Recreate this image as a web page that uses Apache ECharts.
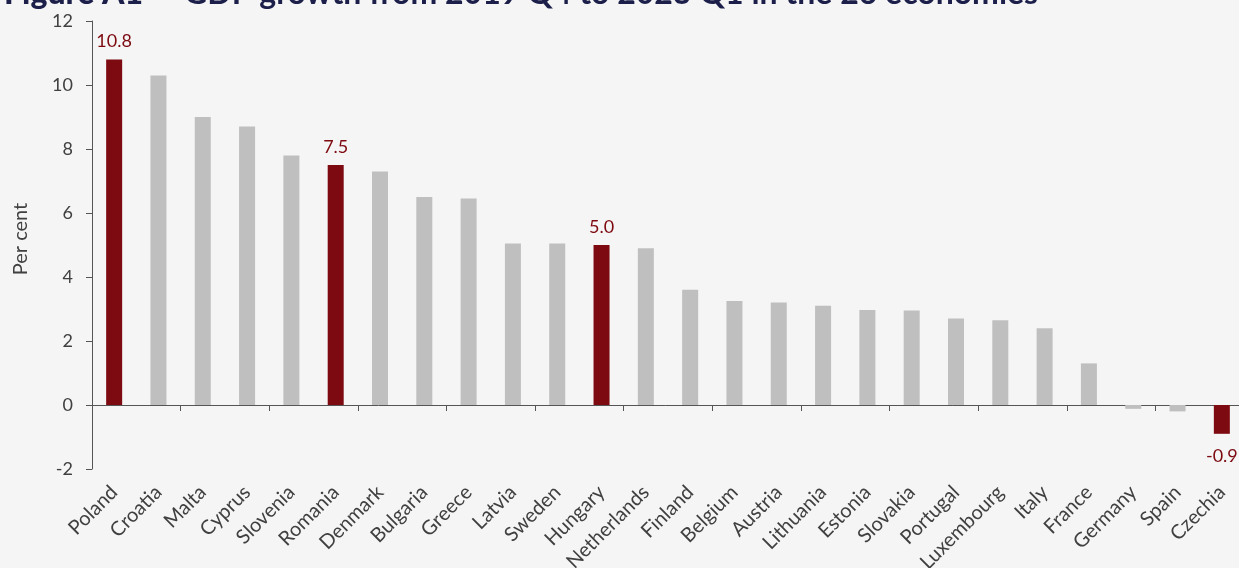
<!DOCTYPE html>
<html>
<head>
<meta charset="utf-8">
<script src="https://cdn.jsdelivr.net/npm/echarts@6/dist/echarts.min.js"></script>
<style>
  html, body { margin: 0; padding: 0; background: #f5f5f5; }
  #chart { width: 1239px; height: 568px; }
</style>
</head>
<body>
<div id="chart"></div>
<script>
// GDP growth by economy, per cent
const countries = ['Poland', 'Croatia', 'Malta', 'Cyprus', 'Slovenia', 'Romania', 'Denmark',
  'Bulgaria', 'Greece', 'Latvia', 'Sweden', 'Hungary', 'Netherlands', 'Finland', 'Belgium',
  'Austria', 'Lithuania', 'Estonia', 'Slovakia', 'Portugal', 'Luxembourg', 'Italy', 'France',
  'Germany', 'Spain', 'Czechia'];
const growth = [10.8, 10.3, 9.0, 8.7, 7.8, 7.5, 7.3, 6.5, 6.45, 5.05, 5.05, 5.0, 4.9, 3.6, 3.25,
  3.2, 3.1, 2.97, 2.95, 2.7, 2.65, 2.4, 1.3, -0.12, -0.2, -0.9];
const highlighted = ['Poland', 'Romania', 'Hungary', 'Czechia'];
const yTicks = { min: -2, max: 12, step: 2 };

const RED = '#7d0a10';
const GREY = '#bfbfbf';
const INK = '#404040';
const AXIS = '#555555';
const FONT = 'Lato';

const barData = countries.map((name, i) => {
  const v = growth[i];
  const hot = highlighted.includes(name);
  return {
    value: v,
    itemStyle: { color: hot ? RED : GREY },
    label: {
      show: hot,
      position: v < 0 ? 'bottom' : 'top',
      distance: v < 0 ? 13 : 9,
      formatter: (p) => p.value.toFixed(1),
      color: RED,
      fontSize: 18,
      fontFamily: FONT
    }
  };
});

const chart = echarts.init(document.getElementById('chart'), null, { renderer: 'canvas' });
chart.setOption({
  backgroundColor: '#f5f5f5',
  animation: false,
  title: {
    left: -1,
    top: -27,
    text: '{b|Figure A1} — GDP growth from 2019 Q4 to 2023 Q1 in the 26 economies',
    textStyle: {
      fontFamily: FONT, fontSize: 32, fontWeight: 'bold', color: '#1c1f4a',
      rich: {
        b: { fontFamily: FONT, fontSize: 32, fontWeight: 900, color: '#1c1f4a' }
      }
    }
  },
  graphic: [{
    type: 'text',
    x: 11,
    y: 239,
    rotation: Math.PI / 2,
    style: {
      text: 'Per cent',
      fill: INK,
      font: '20px Lato',
      align: 'center',
      verticalAlign: 'top'
    }
  }],
  grid: { left: 92, right: -5, top: 21, bottom: 99, containLabel: false, outerBoundsMode: 'none' },
  xAxis: [
    {
      type: 'category',
      data: countries,
      position: 'bottom',
      axisLine: { show: false, onZero: false },
      axisTick: { show: false },
      axisLabel: {
        rotate: 45,
        interval: 0,
        margin: 20,
        color: INK,
        fontSize: 20,
        fontFamily: FONT
      }
    },
    {
      type: 'category',
      data: countries,
      position: 'top',
      axisLine: { show: true, onZero: true, lineStyle: { color: AXIS, width: 1 } },
      axisTick: { show: true, inside: true, length: 6, lineStyle: { color: AXIS } },
      axisLabel: { show: false }
    }
  ],
  yAxis: {
    type: 'value',
    min: yTicks.min,
    max: yTicks.max,
    interval: yTicks.step,
    axisLine: { show: true, lineStyle: { color: AXIS, width: 1 } },
    axisTick: { show: true, length: 6, lineStyle: { color: AXIS } },
    axisLabel: { color: INK, fontSize: 18, fontFamily: FONT, margin: 19 },
    splitLine: { show: false }
  },
  series: [{
    type: 'bar',
    xAxisIndex: 0,
    data: barData,
    barWidth: 16
  }]
});
</script>
</body>
</html>
